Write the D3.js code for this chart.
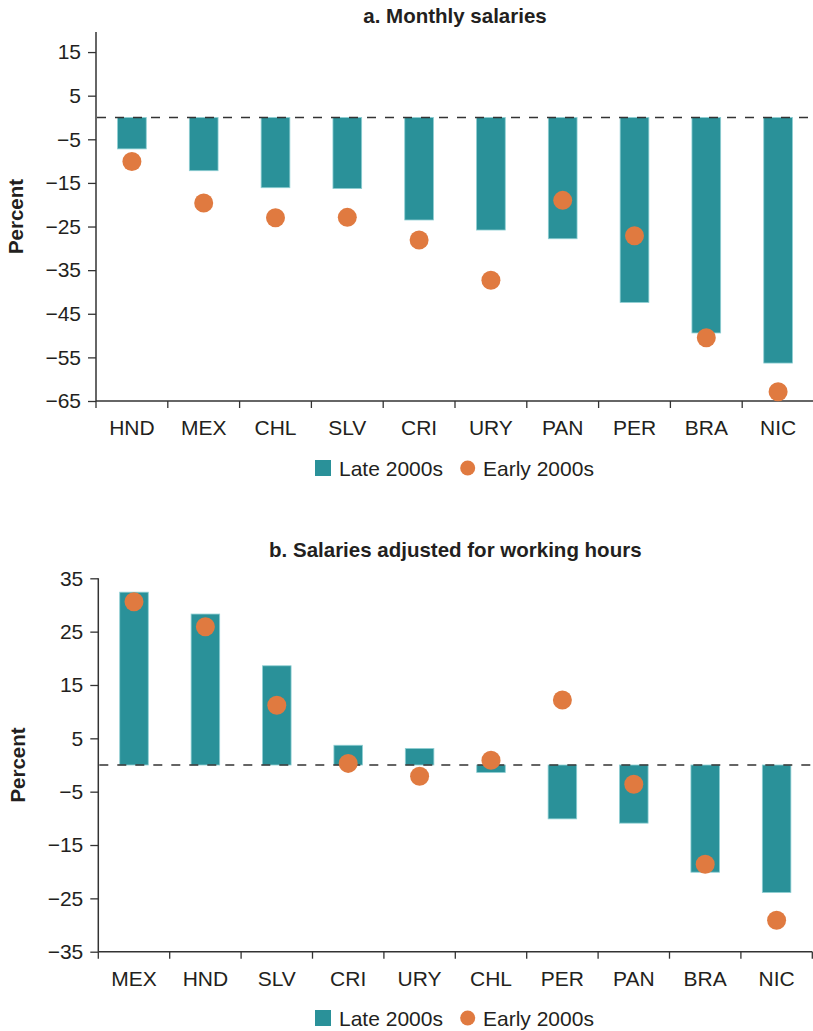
<!DOCTYPE html>
<html>
<head>
<meta charset="utf-8">
<script src="https://cdn.jsdelivr.net/npm/d3@7"></script>
<style>
  body { margin: 0; background: #fff; }
  svg { display: block; font-family: "Liberation Sans", Arial, sans-serif; }
</style>
</head>
<body>
<svg id="chart" width="813" height="1031"></svg>
<script>
// panel a: monthly salaries
const catsA = ['HND', 'MEX', 'CHL', 'SLV', 'CRI', 'URY', 'PAN', 'PER', 'BRA', 'NIC'];
const lateA = [-7.2, -12.2, -16.1, -16.3, -23.5, -25.8, -27.8, -42.4, -49.4, -56.3];
const earlyA = [-10.1, -19.6, -23.0, -22.9, -28.1, -37.3, -19.0, -27.1, -50.5, -62.9];
const ticksA = [15, 5, -5, -15, -25, -35, -45, -55, -65];

// panel b: salaries adjusted for working hours
const catsB = ['MEX', 'HND', 'SLV', 'CRI', 'URY', 'CHL', 'PER', 'PAN', 'BRA', 'NIC'];
const lateB = [32.4, 28.3, 18.6, 3.7, 3.1, -1.4, -10.1, -10.9, -20.1, -23.9];
const earlyB = [30.6, 25.9, 11.2, 0.3, -2.1, 0.9, 12.2, -3.6, -18.6, -29.1];
const ticksB = [35, 25, 15, 5, -5, -15, -25, -35];

const seriesNames = ['Late 2000s', 'Early 2000s'];

const teal = '#2a9199';
const orange = '#e07a40';
const ink = '#231f20';

const svg = d3.select('#chart');

function drawPanel(opt) {
    const g = svg.append('g');

    const x = d3.scaleBand()
        .domain(opt.cats)
        .range([opt.left, opt.right])
        .paddingInner(0)
        .paddingOuter(0);

    const y = d3.scaleLinear()
        .domain(opt.domain)
        .range([opt.bottom, opt.top]);

    // title
    g.append('text')
        .attr('x', (opt.left + opt.right) / 2)
        .attr('y', opt.titleY)
        .attr('text-anchor', 'middle')
        .attr('font-size', 20.5)
        .attr('font-weight', 'bold')
        .attr('fill', ink)
        .text(opt.title);

    // y axis
    const yAxis = g.append('g')
        .attr('transform', `translate(${opt.left},0)`)
        .call(d3.axisLeft(y).tickValues(opt.ticks).tickSize(8).tickPadding(7)
            .tickFormat(d => d < 0 ? '\u2212' + Math.abs(d) : d));
    yAxis.select('.domain').remove();
    yAxis.selectAll('line').attr('stroke', '#333').attr('stroke-width', 1.3);
    yAxis.selectAll('text').attr('font-size', 21).attr('fill', ink)
        .attr('font-family', '"Liberation Sans", Arial, sans-serif');

    g.append('line')
        .attr('x1', opt.left).attr('x2', opt.left)
        .attr('y1', y(opt.domain[1])).attr('y2', y(opt.domain[0]))
        .attr('stroke', '#333').attr('stroke-width', 1.5);

    // x axis
    g.append('line')
        .attr('x1', opt.left).attr('x2', opt.right)
        .attr('y1', y(opt.domain[0])).attr('y2', y(opt.domain[0]))
        .attr('stroke', '#333').attr('stroke-width', 1.5);

    const edges = opt.cats.map(c => x(c)).concat([x(opt.cats[opt.cats.length - 1]) + x.bandwidth()]);
    g.selectAll('.xtick')
        .data(edges)
        .join('line')
        .attr('x1', d => d).attr('x2', d => d)
        .attr('y1', y(opt.domain[0])).attr('y2', y(opt.domain[0]) + 7)
        .attr('stroke', '#333').attr('stroke-width', 1.3);

    g.selectAll('.xlabel')
        .data(opt.cats)
        .join('text')
        .attr('x', d => x(d) + x.bandwidth() / 2)
        .attr('y', y(opt.domain[0]) + 34)
        .attr('text-anchor', 'middle')
        .attr('font-size', 21)
        .attr('fill', ink)
        .text(d => d);

    // y label
    g.append('text')
        .attr('transform', `translate(${opt.left - 73},${(y(opt.domain[0]) + y(opt.domain[1])) / 2}) rotate(-90)`)
        .attr('text-anchor', 'middle')
        .attr('font-size', 20.5)
        .attr('font-weight', 'bold')
        .attr('fill', ink)
        .text('Percent');

    // bars
    const bw = x.bandwidth() * 0.4;
    g.selectAll('.bar')
        .data(opt.cats)
        .join('rect')
        .attr('x', (d) => x(d) + (x.bandwidth() - bw) / 2)
        .attr('y', (d, i) => y(Math.max(0, opt.late[i])))
        .attr('width', bw)
        .attr('height', (d, i) => Math.abs(y(opt.late[i]) - y(0)))
        .attr('fill', teal)
        .attr('stroke', '#8fcfd3')
        .attr('stroke-width', 0.8);

    // zero line
    g.append('line')
        .attr('x1', opt.left + 1).attr('x2', opt.right)
        .attr('y1', y(0)).attr('y2', y(0))
        .attr('stroke', '#333')
        .attr('stroke-width', 1.3)
        .attr('stroke-dasharray', '9,9');

    // dots
    g.selectAll('.dot')
        .data(opt.cats)
        .join('circle')
        .attr('cx', d => x(d) + x.bandwidth() / 2)
        .attr('cy', (d, i) => y(opt.early[i]))
        .attr('r', 9.5)
        .attr('fill', orange);

    // legend
    const lg = g.append('g').attr('transform', `translate(0,${opt.legendY})`);
    lg.append('rect').attr('x', 315).attr('y', -8).attr('width', 16).attr('height', 16).attr('fill', teal);
    lg.append('text').attr('x', 339).attr('y', 7.5).attr('font-size', 21).attr('fill', ink).text(seriesNames[0]);
    lg.append('circle').attr('cx', 467.7).attr('cy', 0).attr('r', 7.5).attr('fill', orange);
    lg.append('text').attr('x', 483).attr('y', 7.5).attr('font-size', 21).attr('fill', ink).text(seriesNames[1]);
}

drawPanel({
    title: 'a. Monthly salaries', titleY: 22.5,
    cats: catsA, late: lateA, early: earlyA, ticks: ticksA,
    domain: [-65, 19.6],
    left: 96, right: 814, top: 32, bottom: 401,
    legendY: 468
});

drawPanel({
    title: 'b. Salaries adjusted for working hours', titleY: 556.5,
    cats: catsB, late: lateB, early: earlyB, ticks: ticksB,
    domain: [-35, 35],
    left: 98.3, right: 812.3, top: 578.3, bottom: 951.7,
    legendY: 1018
});
</script>
</body>
</html>
